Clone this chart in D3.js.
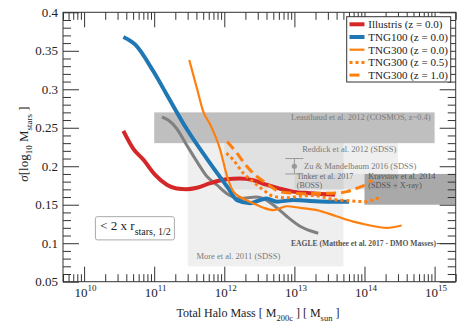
<!DOCTYPE html>
<html lang="en">
<head>
<meta charset="UTF-8">
<title>Scatter of stellar mass at fixed halo mass</title>
<script src="https://d3js.org/d3.v7.min.js"></script>
<style>
  body { margin: 0; background: #fff; }
  svg text { font-family: "Liberation Serif", "DejaVu Serif", "Times New Roman", serif; }
</style>
</head>
<body>
<div id="chart"></div>
<script>
// values: log10(M200c) and sigma[log10 Mstars]
const illustrisLogM = [10.56, 10.70, 10.85, 11.01, 11.18, 11.32, 11.46, 11.61, 11.80, 12.03, 12.22, 12.41, 12.60, 12.79, 12.98, 13.22, 13.58];
const illustrisSigma = [0.246, 0.223, 0.208, 0.189, 0.176, 0.171, 0.170, 0.172, 0.178, 0.183, 0.184, 0.182, 0.176, 0.171, 0.167, 0.165, 0.163];

const tng100LogM = [10.56, 10.73, 10.99, 11.18, 11.46, 11.75, 12.06, 12.18, 12.37, 12.51, 12.60, 12.75, 12.98, 13.22, 13.51, 13.78];
const tng100Sigma = [0.368, 0.358, 0.323, 0.293, 0.249, 0.210, 0.171, 0.156, 0.152, 0.156, 0.158, 0.154, 0.156, 0.155, 0.154, 0.154];

const tng300z0LogM = [11.50, 11.61, 11.70, 11.80, 11.94, 12.04, 12.13, 12.27, 12.41, 12.56, 12.70, 12.89, 13.08, 13.32, 13.60, 13.84, 14.03, 14.32, 14.53];
const tng300z0Sigma = [0.338, 0.301, 0.271, 0.254, 0.222, 0.187, 0.167, 0.158, 0.152, 0.146, 0.143, 0.148, 0.146, 0.143, 0.135, 0.128, 0.124, 0.120, 0.123];

const tng300z05LogM = [12.03, 12.13, 12.27, 12.41, 12.56, 12.70, 12.89, 13.08, 13.27, 13.55, 13.79, 14.01, 14.11, 14.24];
const tng300z05Sigma = [0.217, 0.208, 0.191, 0.180, 0.169, 0.161, 0.159, 0.161, 0.162, 0.157, 0.155, 0.154, 0.156, 0.160];

const tng300z1LogM = [12.04, 12.18, 12.32, 12.46, 12.60, 12.79, 12.98, 13.17, 13.36, 13.55, 13.75, 13.88, 13.99, 14.11];
const tng300z1Sigma = [0.232, 0.217, 0.200, 0.187, 0.178, 0.167, 0.165, 0.164, 0.165, 0.165, 0.167, 0.171, 0.175, 0.182];

const eagleLogM = [11.11, 11.20, 11.32, 11.46, 11.61, 11.75, 11.89, 12.06, 12.22, 12.46, 12.60, 12.75, 12.89, 13.08, 13.34];
const eagleSigma = [0.264, 0.260, 0.249, 0.228, 0.206, 0.187, 0.176, 0.163, 0.158, 0.160, 0.156, 0.146, 0.135, 0.122, 0.113];

// observational constraints: [mass lo, mass hi], [sigma lo, sigma hi]
const obsNames = ["More", "Reddick", "Tinker", "Leauthaud", "Kravtsov"];
const obsMass = [[3e11, 5e13], [1e12, 3e14], [1e13, 1e14], [1e11, 1e15], [1e14, 3e15]];
const obsSigma = [[0.07, 0.23], [0.17, 0.23], [0.17, 0.19], [0.23, 0.27], [0.15, 0.19]];
const obsOpacity = [0.13, 0.13, 0.13, 0.5, 0.68];

const zuMass = 1e13, zuSigma = 0.20, zuErr = 0.01;

const legendNames = ["Illustris (z = 0.0)", "TNG100 (z = 0.0)", "TNG300 (z = 0.0)", "TNG300 (z = 0.5)", "TNG300 (z = 1.0)"];
const xMajor = [1e10, 1e11, 1e12, 1e13, 1e14, 1e15];
const yMajor = [0.05, 0.1, 0.15, 0.2, 0.25, 0.3, 0.35, 0.4];

const W = 469, H = 325;
const pLeft = 63, pRight = 455.7, pTop = 12.3, pBottom = 281.7;

const x = d3.scaleLog().domain([5e9, 2e15]).range([pLeft, pRight]);
const y = d3.scaleLinear().domain([0.05, 0.4]).range([pBottom, pTop]);

const svg = d3.select("#chart").append("svg")
  .attr("width", W).attr("height", H);

svg.append("defs").append("clipPath").attr("id", "plot")
  .append("rect").attr("x", pLeft).attr("y", pTop)
  .attr("width", pRight - pLeft).attr("height", pBottom - pTop);

const plot = svg.append("g").attr("clip-path", "url(#plot)");

// shaded boxes
obsNames.forEach((n, i) => {
  plot.append("rect")
    .attr("x", x(obsMass[i][0]))
    .attr("y", y(obsSigma[i][1]))
    .attr("width", x(obsMass[i][1]) - x(obsMass[i][0]))
    .attr("height", y(obsSigma[i][0]) - y(obsSigma[i][1]))
    .attr("fill", "#808080")
    .attr("fill-opacity", obsOpacity[i]);
});

// annotation text
function note(g, mx, sy, txt, opts) {
  opts = opts || {};
  return g.append("text")
    .attr("x", x(mx)).attr("y", y(sy))
    .attr("text-anchor", opts.anchor || "start")
    .attr("fill", opts.color || "#7a7a7a")
    .style("font-size", (opts.size || 8.5) + "px")
    .style("font-weight", opts.weight || "normal")
    .text(txt);
}
note(plot, 8.8e14, 0.2605, "Leauthaud et al. 2012 (COSMOS, z~0.4)", {anchor: "end"});
note(plot, 2.85e14, 0.2185, "Reddick et al. 2012 (SDSS)", {anchor: "end"});
note(plot, 1.37e13, 0.1965, "Zu & Mandelbaum 2016 (SDSS)");
note(plot, 1.08e13, 0.1838, "Tinker et al. 2017", {size: 8, color: "#666"});
note(plot, 1.08e13, 0.1718, "(BOSS)", {size: 8, color: "#666"});
note(plot, 1.13e14, 0.1838, "Kravstov et al. 2014", {size: 8.3, color: "#555"});
note(plot, 1.13e14, 0.1718, "(SDSS + X-ray)", {size: 8.3, color: "#555"});
note(plot, 4.0e11, 0.0795, "More et al. 2011 (SDSS)");
note(plot, 1.05e15, 0.0958, "EAGLE (Matthee et al. 2017 - DMO Masses)", {anchor: "end", size: 7.6, weight: "bold", color: "#555"});

plot.append("line")
  .attr("x1", x(1.07e15)).attr("x2", pRight)
  .attr("y1", y(0.0995)).attr("y2", y(0.0995))
  .attr("stroke", "#555").attr("stroke-width", 1);

// Zu & Mandelbaum point with error bar
plot.append("line")
  .attr("x1", x(zuMass)).attr("x2", x(zuMass))
  .attr("y1", y(zuSigma + zuErr)).attr("y2", y(zuSigma - zuErr))
  .attr("stroke", "#999").attr("stroke-width", 1);
[zuSigma + zuErr, zuSigma - zuErr].forEach(s => {
  plot.append("line")
    .attr("x1", x(zuMass) - 9).attr("x2", x(zuMass) + 9)
    .attr("y1", y(s)).attr("y2", y(s))
    .attr("stroke", "#999").attr("stroke-width", 1);
});
plot.append("circle")
  .attr("cx", x(zuMass)).attr("cy", y(zuSigma)).attr("r", 2.6)
  .attr("fill", "#999");

// curves
const line = d3.line()
  .x(d => x(Math.pow(10, d[0])))
  .y(d => y(d[1]))
  .curve(d3.curveMonotoneX);

const series = [
  {m: eagleLogM, s: eagleSigma, color: "#808080", w: 3, dash: null},
  {m: illustrisLogM, s: illustrisSigma, color: "#d62728", w: 4, dash: null},
  {m: tng100LogM, s: tng100Sigma, color: "#1f77b4", w: 4, dash: null},
  {m: tng300z0LogM, s: tng300z0Sigma, color: "#ff7f0e", w: 2.2, dash: null},
  {m: tng300z05LogM, s: tng300z05Sigma, color: "#ff7f0e", w: 3, dash: "3,3"},
  {m: tng300z1LogM, s: tng300z1Sigma, color: "#ff7f0e", w: 3, dash: "10,5"}
];

series.forEach(sr => {
  plot.append("path")
    .datum(d3.zip(sr.m, sr.s))
    .attr("d", line)
    .attr("fill", "none")
    .attr("stroke", sr.color)
    .attr("stroke-width", sr.w)
    .attr("stroke-dasharray", sr.dash)
    .attr("stroke-linejoin", "round");
});

// axes, ticks pointing inward
const xMinor = x.ticks().filter(d => !xMajor.includes(d));
const yMinor = d3.range(5, 41).map(d => d / 100).filter(d => Math.round(d * 100) % 5 !== 0);

function styleAxis(g) {
  g.select(".domain").remove();
  g.selectAll(".tick line").attr("stroke", "#333");
}

svg.append("g").attr("transform", `translate(0,${pBottom})`)
  .call(d3.axisBottom(x).tickValues(xMinor).tickSize(-7.5).tickSizeOuter(0).tickFormat(""))
  .call(styleAxis);
const gx = svg.append("g").attr("transform", `translate(0,${pBottom})`)
  .call(d3.axisBottom(x).tickValues(xMajor).tickSize(-15).tickSizeOuter(0).tickFormat(""))
  .call(styleAxis);
gx.selectAll(".tick").append("text")
  .attr("y", 15).attr("x", 1)
  .attr("text-anchor", "middle")
  .attr("fill", "#222")
  .style("font-size", "13px")
  .each(function(d) {
    const t = d3.select(this);
    t.append("tspan").text("10");
    t.append("tspan").attr("dy", -6).style("font-size", "9px").text(Math.round(Math.log10(d)));
  });

svg.append("g").attr("transform", `translate(0,${pTop})`)
  .call(d3.axisTop(x).tickValues(xMinor).tickSize(-7.5).tickSizeOuter(0).tickFormat(""))
  .call(styleAxis);
svg.append("g").attr("transform", `translate(0,${pTop})`)
  .call(d3.axisTop(x).tickValues(xMajor).tickSize(-15).tickSizeOuter(0).tickFormat(""))
  .call(styleAxis);

svg.append("g").attr("transform", `translate(${pLeft},0)`)
  .call(d3.axisLeft(y).tickValues(yMinor).tickSize(-8).tickSizeOuter(0).tickFormat(""))
  .call(styleAxis);
svg.append("g").attr("transform", `translate(${pLeft},0)`)
  .call(d3.axisLeft(y).tickValues(yMajor).tickSize(-16).tickSizeOuter(0).tickPadding(5)
    .tickFormat(d => String(+d.toFixed(2))))
  .call(styleAxis)
  .call(g => g.selectAll(".tick text")
    .attr("fill", "#222")
    .style("font-size", "13px")
    .style("font-family", "'Liberation Serif', 'DejaVu Serif', serif"));

svg.append("g").attr("transform", `translate(${pRight},0)`)
  .call(d3.axisRight(y).tickValues(yMinor).tickSize(-8).tickSizeOuter(0).tickFormat(""))
  .call(styleAxis);
svg.append("g").attr("transform", `translate(${pRight},0)`)
  .call(d3.axisRight(y).tickValues(yMajor).tickSize(-16).tickSizeOuter(0).tickFormat(""))
  .call(styleAxis);

svg.append("rect")
  .attr("x", pLeft).attr("y", pTop)
  .attr("width", pRight - pLeft).attr("height", pBottom - pTop)
  .attr("fill", "none").attr("stroke", "#333").attr("stroke-width", 1);

// boxed label
svg.append("rect")
  .attr("x", x(1.45e10)).attr("y", y(0.1345))
  .attr("width", x(1.94e11) - x(1.45e10))
  .attr("height", y(0.1043) - y(0.1345))
  .attr("rx", 2)
  .attr("fill", "#fff").attr("stroke", "#aaa").attr("stroke-width", 1);
const lbl = svg.append("text")
  .attr("x", x(1.7e10)).attr("y", y(0.1175))
  .attr("fill", "#222").style("font-size", "13px");
lbl.append("tspan").text("<  2 x r");
lbl.append("tspan").attr("dy", 5).style("font-size", "10px").text("stars, 1/2");

// legend
const legend = svg.append("g");
legend.append("rect")
  .attr("x", 346.7).attr("y", 16.7).attr("width", 104).attr("height", 65.3)
  .attr("fill", "#fff").attr("stroke", "#333").attr("stroke-width", 1);
const legendSeries = series.slice(1);
legendNames.forEach((name, i) => {
  const ly = 24.3 + i * 12.7;
  legend.append("line")
    .attr("x1", 349.5).attr("x2", 364.5).attr("y1", ly).attr("y2", ly)
    .attr("stroke", legendSeries[i].color)
    .attr("stroke-width", legendSeries[i].w)
    .attr("stroke-dasharray", legendSeries[i].dash);
  legend.append("text")
    .attr("x", 368.3).attr("y", ly + 3.8)
    .attr("fill", "#222").style("font-size", "11px")
    .text(name);
});

// axis titles
const xt = svg.append("text")
  .attr("x", 258).attr("y", 316.5)
  .attr("text-anchor", "middle")
  .attr("fill", "#222").style("font-size", "12px");
xt.append("tspan").text("Total Halo Mass [ M");
xt.append("tspan").attr("dy", 4).style("font-size", "8.5px").text("200c");
xt.append("tspan").attr("dy", -4).text(" ] [ M");
xt.append("tspan").attr("dy", 4).style("font-size", "8.5px").text("sun");
xt.append("tspan").attr("dy", -4).text(" ]");

const yt = svg.append("text")
  .attr("transform", "translate(28,144) rotate(-90)")
  .attr("text-anchor", "middle")
  .attr("fill", "#222").style("font-size", "13px");
yt.append("tspan").style("font-style", "italic").text("σ");
yt.append("tspan").text("[log");
yt.append("tspan").attr("dy", 4).style("font-size", "9px").text("10");
yt.append("tspan").attr("dy", -4).text(" M");
yt.append("tspan").attr("dy", 4).style("font-size", "9px").text("stars");
yt.append("tspan").attr("dy", -4).text(" ]");
</script>
</body>
</html>
